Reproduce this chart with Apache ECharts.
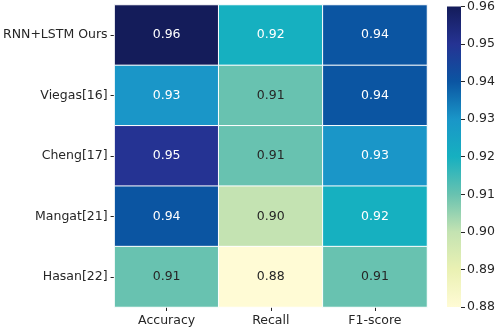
<!DOCTYPE html>
<html lang="en">
<head>
    <meta charset="UTF-8">
    <title>heatmap</title>
    <script src="https://cdn.jsdelivr.net/npm/echarts@6/dist/echarts.min.js"></script>
    <style>
        html, body { margin: 0; padding: 0; background: #fff; }
        #main { width: 498px; height: 328px; }
    </style>
</head>
<body>
<div id="main"></div>
<script type="text/javascript">
    // data
    var methods = ['RNN+LSTM Ours', 'Viegas[16]', 'Cheng[17]', 'Mangat[21]', 'Hasan[22]'];
    var metrics = ['Accuracy', 'Recall', 'F1-score'];
    var accuracy = [0.96, 0.93, 0.95, 0.94, 0.91];
    var recall   = [0.92, 0.91, 0.91, 0.90, 0.88];
    var f1score  = [0.94, 0.94, 0.93, 0.92, 0.91];
    var vmin = 0.88, vmax = 0.96;

    // YlGnBu-like ramp, low -> high (as it looks in the picture)
    var ramp = ['#fffbd5', '#eaf1b3', '#c4e3b2', '#68c2b0', '#16b0c0', '#1a96c8', '#0b55a2', '#253393', '#141c5a'];

    var cols = [accuracy, recall, f1score];
    var cells = [];
    for (var c = 0; c < cols.length; c++) {
        for (var r = 0; r < methods.length; r++) {
            var v = cols[c][r];
            cells.push({
                value: [c, r, v],
                label: { color: v >= 0.915 ? '#ffffff' : '#262626' }
            });
        }
    }

    var stops = [];
    for (var i = 0; i < ramp.length; i++) {
        stops.push({ offset: i / (ramp.length - 1), color: ramp[ramp.length - 1 - i] });
    }

    var font = 'DejaVu Sans';
    var fs = 12.5;
    var myChart = echarts.init(document.getElementById('main'));
    var option = {
        animation: false,
        textStyle: { fontFamily: font },
        grid: [
            { left: 111, top: 5, width: 316, height: 302 },
            { left: 447, top: 5, width: 14, height: 302 }
        ],
        xAxis: [{
            gridIndex: 0,
            type: 'category',
            data: metrics,
            axisLine: { show: false },
            axisTick: { show: true, alignWithLabel: true, length: 4, lineStyle: { color: '#262626' } },
            axisLabel: { margin: 7, fontSize: fs, color: '#262626', fontFamily: font },
            splitLine: { show: false }
        }, {
            gridIndex: 1,
            type: 'category',
            data: [''],
            show: false
        }],
        yAxis: [{
            gridIndex: 0,
            type: 'category',
            data: methods,
            inverse: true,
            axisLine: { show: false },
            axisTick: { show: true, alignWithLabel: true, length: 4, lineStyle: { color: '#262626' } },
            axisLabel: { margin: 7, fontSize: fs, color: '#262626', fontFamily: font },
            splitLine: { show: false }
        }, {
            gridIndex: 1,
            type: 'value',
            position: 'right',
            min: vmin,
            max: vmax,
            interval: 0.01,
            axisLine: { show: false },
            axisTick: { show: true, length: 4, lineStyle: { color: '#262626' } },
            axisLabel: {
                margin: 6, fontSize: fs, color: '#262626', fontFamily: font,
                formatter: function (v) { return v.toFixed(2); }
            },
            splitLine: { show: false }
        }],
        visualMap: {
            show: false,
            seriesIndex: 0,
            dimension: 2,
            min: vmin,
            max: vmax,
            inRange: { color: ramp }
        },
        series: [{
            type: 'heatmap',
            xAxisIndex: 0,
            yAxisIndex: 0,
            data: cells,
            itemStyle: { borderColor: '#ffffff', borderWidth: 1 },
            label: {
                show: true,
                fontSize: fs,
                fontFamily: font,
                formatter: function (p) { return p.value[2].toFixed(2); }
            }
        }, {
            type: 'bar',
            xAxisIndex: 1,
            yAxisIndex: 1,
            barWidth: '100%',
            data: [vmax],
            silent: true,
            itemStyle: {
                color: new echarts.graphic.LinearGradient(0, 0, 0, 1, stops)
            }
        }]
    };
    myChart.setOption(option);
</script>
</body>
</html>
